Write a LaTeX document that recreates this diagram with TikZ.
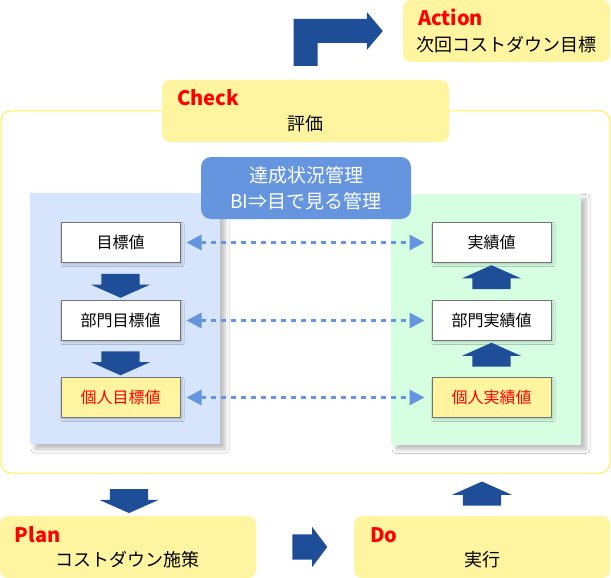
\documentclass[tikz,border=0pt]{standalone}
\usepackage{fontspec}
\setmainfont{Noto Sans CJK JP}
\usetikzlibrary{calc, positioning, shapes.arrows, arrows.meta, shadows.blur}
\definecolor{phaseyellow}{RGB}{255,245,160}
\definecolor{frameyellow}{RGB}{255,236,80}
\definecolor{planblue}{RGB}{214,228,252}
\definecolor{dogreen}{RGB}{214,255,226}
\definecolor{linkblue}{RGB}{100,149,222}
\definecolor{arrowblue}{RGB}{30,78,151}
\definecolor{titlered}{RGB}{255,0,0}
\def\boxw{119pt}
\def\boxh{40pt}
\def\phasew{256pt}
\def\phaseh{62pt}
\def\phasefont{\fontsize{18}{22}\selectfont}
\def\valuefont{\fontsize{16}{20}\selectfont}
\def\titlefont{\fontsize{20}{24}\selectfont\bfseries}
\tikzset{
% Phase
phase/.style={
	fill=phaseyellow,
	rounded corners=8pt,
	minimum width=\phasew, minimum height=\phaseh,
	inner sep=0pt,
	},
phase_title/.style={
	font=\titlefont, text=titlered, anchor=west, inner sep=0pt,
	},
phase_text/.style={
	font=\phasefont, inner sep=0pt,
	},
% Panel
panel/.style={
	minimum width=190pt, minimum height=251pt, inner sep=0pt,
	blur shadow={shadow xshift=5pt, shadow yshift=-5pt, shadow blur radius=4pt, shadow opacity=25},
	},
% Value
value/.style={
	draw=black!55, line width=1pt, fill=white,
	minimum width=\boxw, minimum height=\boxh,
	font=\valuefont, inner sep=0pt,
	blur shadow={shadow xshift=2pt, shadow yshift=-2pt, shadow opacity=18},
	},
personal/.style={
	value, fill=phaseyellow, text=titlered,
	},
% Block arrow
flow/.style={
	single arrow, fill=arrowblue, inner xsep=0pt, inner ysep=19pt,
	single arrow head extend=10.5pt, single arrow tip angle=132,
	minimum height=24pt,
	},
flow_right/.style={
	single arrow, fill=arrowblue, inner xsep=0pt, inner ysep=12.5pt,
	single arrow head extend=7.5pt, single arrow tip angle=106,
	minimum height=35pt,
	},
% Link
link/.style={
	linkblue, line width=3pt, dash pattern=on 5pt off 5pt,
	{Triangle[length=15pt,width=15pt]}-{Triangle[length=15pt,width=15pt]},
	shorten <=6pt, shorten >=7pt,
	},
}
\begin{document}
\begin{tikzpicture}[x=1pt, y=-1pt]
		\useasboundingbox (0,0) rectangle (611,578);

		% Components
		\node[draw=frameyellow, line width=1pt, fill=white, rounded corners=10pt,
			minimum width=609pt, minimum height=362pt] 
			 (frame) at (305.5,292) {};

		\node[phase, minimum width=287pt] (check) at (305.5,111) {};
		\node[phase, minimum width=207pt] (action) at (506.5,31) {};
		\node[phase] (plan) at (128,547) {};
		\node[phase] (do) at (482,547) {};

		\node[panel, fill=planblue] (targets) at (125,318.5) {};
		\node[panel, fill=dogreen] (results) at (486,319) {};

		\node[fill=linkblue, rounded corners=10pt, text=white, align=center,
			minimum width=210pt, minimum height=62pt, inner sep=0pt,
			font=\fontsize{19}{26}\selectfont] 
			 (status) at (306,188) {達成状況管理\\BI⇒目で見る管理};

		\node[value] (tgt_val) at (120.5,242.5) {目標値};
		\node[value, below=37pt of tgt_val] (dept_tgt) {部門目標値};
		\node[personal, below=36pt of dept_tgt] (person_tgt) {個人目標値};

		\node[value, right=251pt of tgt_val] (act_val) {実績値};
		\node[value, right=251pt of dept_tgt] (dept_act) {部門実績値};
		\node[personal, right=251pt of person_tgt] (person_act) {個人実績値};

		% Phase texts
		\node[phase_title] (action_title) at ($(action.north west)+(15,18)$) {Action};
		\node[phase_text] (action_text) at ($(action.south)+(0,-18)$) {次回コストダウン目標};
		\node[phase_title] (check_title) at ($(check.north west)+(15,18)$) {Check};
		\node[phase_text] (check_text) at ($(check.south)+(0,-19)$) {評価};
		\node[phase_title] (plan_title) at ($(plan.north west)+(15,19)$) {Plan};
		\node[phase_text] (plan_text) at ($(plan.south)+(0,-19)$) {コストダウン施策};
		\node[phase_title] (do_title) at ($(do.north west)+(16,19)$) {Do};
		\node[phase_text] (do_text) at ($(do.south)+(0,-19)$) {実行};

		% Connections

		% Targets down
		\node[flow, rotate=-90] (arr_t1) at ($(tgt_val.south)!0.5!(dept_tgt.north)$) {};
		\node[flow, rotate=-90] (arr_t2) at ($(dept_tgt.south)!0.5!(person_tgt.north)$) {};

		% Results up
		\node[flow, rotate=90] (arr_a1) at ($(person_act.north)!0.5!(dept_act.south)$) {};
		\node[flow, rotate=90] (arr_a2) at ($(dept_act.north)!0.5!(act_val.south)$) {};

		% Target <-> result
		\draw[link] (tgt_val) -- (act_val);
		\draw[link] (dept_tgt) -- (dept_act);
		\draw[link] (person_tgt) -- (person_act);

		% PDCA cycle
		\node[flow, rotate=-90] (arr_plan) at ($(plan.north)+(1,-19)$) {};
		\node[flow_right] (arr_next) at ($(plan.east)!0.5!(do.west)$) {};
		\node[flow, rotate=90] (arr_do) at ($(do.north)+(0,-18)$) {};

		\coordinate (bend) at (check.north |- action.west);
		\fill[arrowblue]
			 ($(check.north)+(-12,-14)$) --
			 ($(bend)+(-12,-12)$) --
			 ($(action.west)+(-36,-12)$) --
			 ($(action.west)+(-36,-19)$) --
			 ($(action.west)+(-20,0)$) --
			 ($(action.west)+(-36,19)$) --
			 ($(action.west)+(-36,12)$) --
			 ($(bend)+(12,12)$) --
			 ($(check.north)+(12,-14)$) -- cycle;
	\end{tikzpicture}
\end{document}
